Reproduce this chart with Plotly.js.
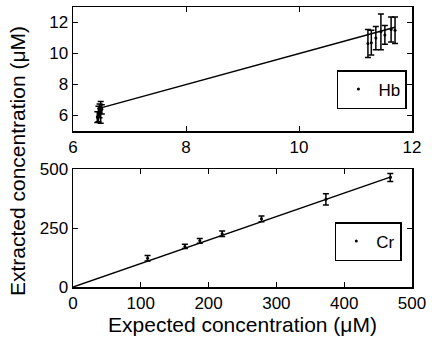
<!DOCTYPE html>
<html><head><meta charset="utf-8">
<script src="https://cdn.plot.ly/plotly-3.0.1.min.js"></script>
<style>html,body{margin:0;padding:0;background:#fff}#c{width:432px;height:339px}</style>
</head><body><div id="c"></div>
<script>
// Hb (top panel)
const hbExpected  = [6.43, 6.45, 6.47, 6.49, 6.51, 11.22, 11.28, 11.36, 11.45, 11.52, 11.63, 11.70];
const hbExtracted = [5.9, 6.1, 6.3, 6.2, 6.4, 10.65, 10.7, 11.0, 11.4, 11.2, 11.55, 11.5];
const hbError     = [0.35, 0.5, 0.45, 0.7, 0.3, 0.9, 0.8, 0.75, 1.15, 0.6, 0.8, 0.85];
const hbFitX = [6.43, 11.70];
const hbFitY = [6.43, 11.70];
// Cr (bottom panel)
const crExpected  = [110, 165, 187, 220, 278, 373, 468];
const crExtracted = [122, 172, 196, 226, 289, 372, 464];
const crError     = [12, 9, 10, 12, 12, 24, 17];
const crFitX = [0, 470];
const crFitY = [0, 468];
// ticks
const topXTicks = [6, 8, 10, 12];
const topYTicks = [6, 8, 10, 12];
const botXTicks = [0, 100, 200, 300, 400, 500];
const botYTicks = [0, 250, 500];

const FONT = 'Liberation Sans, Arial, sans-serif';
const axBase = {
  showgrid: false, zeroline: false, showline: true, linecolor: '#000', linewidth: 1.5,
  mirror: 'ticks', ticks: 'inside', ticklen: 5, tickwidth: 1, tickcolor: '#000',
  tickfont: {family: FONT, size: 17, color: '#000'}, tickmode: 'array'
};

const traces = [
  {x: hbFitX, y: hbFitY, xaxis: 'x', yaxis: 'y', mode: 'lines',
   line: {color: '#000', width: 1.5}, showlegend: false, hoverinfo: 'skip'},
  {x: hbExpected, y: hbExtracted, xaxis: 'x', yaxis: 'y', mode: 'markers', name: 'Hb',
   legend: 'legend',
   marker: {color: '#000', size: 3},
   error_y: {type: 'data', array: hbError, visible: true, color: '#000', thickness: 1.5, width: 3}},
  {x: crFitX, y: crFitY, xaxis: 'x2', yaxis: 'y2', mode: 'lines',
   line: {color: '#000', width: 1.5}, showlegend: false, hoverinfo: 'skip'},
  {x: crExpected, y: crExtracted, xaxis: 'x2', yaxis: 'y2', mode: 'markers', name: 'Cr',
   legend: 'legend2',
   marker: {color: '#000', size: 3},
   error_y: {type: 'data', array: crError, visible: true, color: '#000', thickness: 1.5, width: 3}}
];

const layout = {
  width: 432, height: 339,
  margin: {l: 73, r: 20, t: 7, b: 52},
  paper_bgcolor: '#fff', plot_bgcolor: '#fff',
  font: {family: FONT, color: '#000'},
  xaxis: Object.assign({}, axBase, {domain: [0, 1], range: [6, 12], tickvals: topXTicks,
    ticktext: topXTicks.map(String), anchor: 'y'}),
  yaxis: Object.assign({}, axBase, {domain: [0.557, 1], range: [5, 13], tickvals: topYTicks,
    ticktext: topYTicks.map(String), anchor: 'x'}),
  xaxis2: Object.assign({}, axBase, {domain: [0, 1], range: [0, 500], tickvals: botXTicks,
    ticktext: botXTicks.map(String), anchor: 'y2',
    title: {text: 'Expected concentration (μM)', font: {family: FONT, size: 21, color: '#000'}, standoff: 0}}),
  yaxis2: Object.assign({}, axBase, {domain: [0, 0.421], range: [0, 500], tickvals: botYTicks,
    ticktext: botYTicks.map(String), anchor: 'x2'}),
  legend: {x: 0.985, xanchor: 'right', y: 0.775, yanchor: 'top', bgcolor: '#fff',
    bordercolor: '#000', borderwidth: 1.5, font: {family: FONT, size: 17, color: '#000'},
    itemwidth: 30},
  legend2: {x: 0.97, xanchor: 'right', y: 0.232, yanchor: 'top', bgcolor: '#fff',
    bordercolor: '#000', borderwidth: 1.5, font: {family: FONT, size: 17, color: '#000'},
    itemwidth: 30},
  annotations: [{
    text: 'Extracted concentration (μM)', textangle: -90, xref: 'paper', yref: 'paper',
    x: -0.165, y: 0.45, xanchor: 'center', yanchor: 'middle', showarrow: false,
    font: {family: FONT, size: 21, color: '#000'}
  }]
};

Plotly.newPlot('c', traces, layout, {displayModeBar: false, staticPlot: true});
</script>
</body></html>
